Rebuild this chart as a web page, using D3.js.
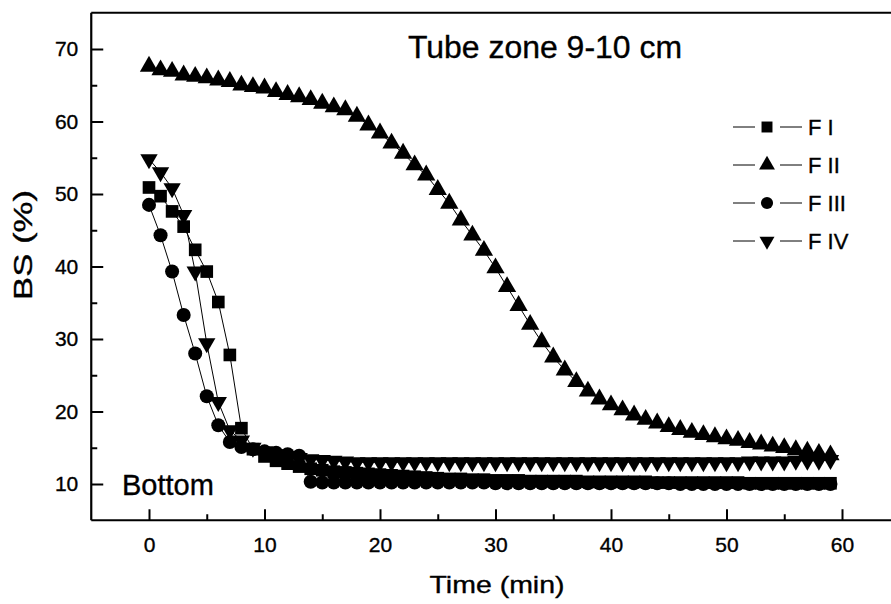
<!DOCTYPE html>
<html>
<head>
<meta charset="utf-8">
<script src="https://cdn.jsdelivr.net/npm/d3@7"></script>
<style>
  html, body { margin: 0; padding: 0; background: #fff; }
  svg { display: block; }
  text { font-family: "Liberation Sans", Arial, Helvetica, sans-serif; fill: #000; stroke: #000; stroke-width: 0.35px; }
</style>
</head>
<body>
<svg id="chart" width="891" height="604"></svg>
<script>
// ---------- data ----------
const time = [0,1,2,3,4,5,6,7,8,9,10,11,12,13,14,15,16,17,18,19,20,21,22,23,24,25,26,27,28,29,
              30,31,32,33,34,35,36,37,38,39,40,41,42,43,44,45,46,47,48,49,50,51,52,53,54,55,56,57,58,59];

const seriesNames = ["F I", "F II", "F III", "F IV"];

const fI = [50.9,49.7,47.6,45.5,42.3,39.3,35.1,27.8,17.7,14.8,13.8,13.2,12.8,12.4,12.1,11.9,11.7,11.6,11.5,11.4,
            11.3,11.2,11.1,11.0,10.9,10.8,10.7,10.7,10.6,10.6,10.5,10.5,10.5,10.4,10.4,10.4,10.4,10.4,10.3,10.3,
            10.3,10.3,10.3,10.3,10.2,10.2,10.2,10.2,10.2,10.2,10.2,10.2,10.1,10.1,10.1,10.1,10.1,10.1,10.1,10.1];

const fII = [67.6,67.1,66.9,66.4,66.2,66.0,65.7,65.5,65.0,64.8,64.6,64.1,63.7,63.4,63.0,62.5,62.0,61.6,60.7,59.5,
             58.4,57.0,55.6,54.0,52.6,50.6,48.7,46.4,44.3,42.2,39.8,37.2,34.6,32.0,29.6,27.5,25.7,24.1,22.8,21.7,
             20.9,20.2,19.5,18.9,18.4,17.9,17.5,17.1,16.8,16.5,16.2,16.0,15.7,15.5,15.2,15.0,14.7,14.5,14.2,14.0];

const fIII = [48.5,44.3,39.3,33.3,28.0,22.1,18.1,15.8,15.1,14.8,14.5,14.3,14.1,13.9,10.3,10.2,10.2,10.2,10.2,10.2,
              10.2,10.2,10.2,10.2,10.2,10.2,10.2,10.2,10.2,10.2,10.1,10.1,10.1,10.1,10.1,10.1,10.1,10.1,10.1,10.1,
              10.1,10.1,10.1,10.1,10.1,10.1,10.0,10.0,10.0,10.0,10.0,10.0,10.0,10.0,10.0,10.0,10.0,10.0,10.0,10.0];

const fIV = [54.8,53.0,50.8,47.1,39.3,29.4,21.3,17.4,16.0,15.0,14.5,14.1,13.8,13.6,13.4,13.3,13.2,13.1,13.0,13.0,
             13.0,13.0,13.0,13.0,13.0,13.0,13.0,13.0,13.0,13.0,13.0,13.0,13.0,13.0,13.0,13.0,13.0,13.0,13.0,13.0,
             13.0,13.0,13.0,13.0,13.0,13.0,13.0,13.0,13.0,13.0,13.0,13.0,13.1,13.1,13.1,13.1,13.2,13.2,13.2,13.3];

const xMajorTicks = [0,10,20,30,40,50,60];
const xMinorTicks = [5,15,25,35,45,55];
const yMajorTicks = [10,20,30,40,50,60,70];
const yMinorTicks = [15,25,35,45,55,65];

// ---------- layout ----------
const svg = d3.select("#chart");
const x = d3.scaleLinear().domain([-5, 65]).range([91.25, 899.75]);
const y = d3.scaleLinear().domain([5, 75]).range([520.25, 12.75]);

const g = svg.append("g");

// axes
const xAxis = g.append("g").attr("transform", `translate(0,${y(5)})`)
  .call(d3.axisBottom(x).tickValues(xMajorTicks).tickSizeInner(-11).tickSizeOuter(0).tickPadding(17));
const xMinor = g.append("g").attr("transform", `translate(0,${y(5)})`)
  .call(d3.axisBottom(x).tickValues(xMinorTicks).tickSizeInner(-6).tickSizeOuter(0).tickFormat(""));
const yAxis = g.append("g").attr("transform", `translate(${x(-5)},0)`)
  .call(d3.axisLeft(y).tickValues(yMajorTicks).tickSizeInner(-12).tickSizeOuter(0).tickPadding(13));
const yMinor = g.append("g").attr("transform", `translate(${x(-5)},0)`)
  .call(d3.axisLeft(y).tickValues(yMinorTicks).tickSizeInner(-6).tickSizeOuter(0).tickFormat(""));

[xAxis, xMinor, yAxis, yMinor].forEach(a => {
  a.select(".domain").remove();
  a.selectAll(".tick line").attr("stroke", "#000").attr("stroke-width", 2);
  a.selectAll(".tick text").style("font-size", "21px").attr("fill", "#000");
});

// frame (left, bottom, top)
g.append("line").attr("x1", x(-5)).attr("x2", x(-5)).attr("y1", y(75)).attr("y2", y(5))
  .attr("stroke", "#000").attr("stroke-width", 2.2);
g.append("line").attr("x1", x(-5)).attr("x2", x(65)).attr("y1", y(5)).attr("y2", y(5))
  .attr("stroke", "#000").attr("stroke-width", 2.2);
g.append("line").attr("x1", x(-5)).attr("x2", x(65)).attr("y1", y(75)).attr("y2", y(75))
  .attr("stroke", "#000").attr("stroke-width", 2.2);

// series
const series = [
  { name: seriesNames[0], values: fI,   type: d3.symbolSquare,   size: 160, rot: 0 },
  { name: seriesNames[1], values: fII,  type: d3.symbolTriangle, size: 145, rot: 0 },
  { name: seriesNames[2], values: fIII, type: d3.symbolCircle,   size: 155, rot: 0 },
  { name: seriesNames[3], values: fIV,  type: d3.symbolTriangle, size: 130, rot: 180 }
];

const line = d3.line().x((d, i) => x(time[i])).y(d => y(d));

series.forEach(s => {
  g.append("path").datum(s.values).attr("d", line)
    .attr("fill", "none").attr("stroke", "#000").attr("stroke-width", 1);
});
series.forEach(s => {
  const sym = d3.symbol().type(s.type).size(s.size);
  g.append("g").selectAll("path").data(s.values).join("path")
    .attr("d", sym)
    .attr("transform", (d, i) => `translate(${x(time[i])},${y(d)}) rotate(${s.rot})`)
    .attr("fill", "#000");
});

// legend
const legY = [127, 165, 203, 241];
const leg = g.append("g");
series.forEach((s, i) => {
  const row = leg.append("g").attr("transform", `translate(0,${legY[i]})`);
  row.append("line").attr("x1", 733).attr("x2", 755).attr("y1", 0).attr("y2", 0)
    .attr("stroke", "#000").attr("stroke-width", 1);
  row.append("line").attr("x1", 780).attr("x2", 802).attr("y1", 0).attr("y2", 0)
    .attr("stroke", "#000").attr("stroke-width", 1);
  row.append("path").attr("d", d3.symbol().type(s.type).size(s.size * 0.75)())
    .attr("transform", `translate(767,0) rotate(${s.rot})`).attr("fill", "#000");
  row.append("text").attr("x", 808).attr("y", 8).style("font-size", "22px").text(s.name);
});

// texts
g.append("text").attr("x", 408).attr("y", 58).style("font-size", "31px")
  .attr("textLength", 274).attr("lengthAdjust", "spacingAndGlyphs").text("Tube zone 9-10 cm");
g.append("text").attr("x", 122).attr("y", 495).style("font-size", "29px").text("Bottom");
g.append("text").attr("x", 497).attr("y", 593).attr("text-anchor", "middle").style("font-size", "24px")
  .attr("textLength", 135).attr("lengthAdjust", "spacingAndGlyphs").text("Time (min)");
g.append("text").attr("transform", "translate(32,245) rotate(-90)").attr("text-anchor", "middle")
  .style("font-size", "26px").attr("textLength", 110).attr("lengthAdjust", "spacingAndGlyphs").text("BS (%)");
</script>
</body>
</html>
